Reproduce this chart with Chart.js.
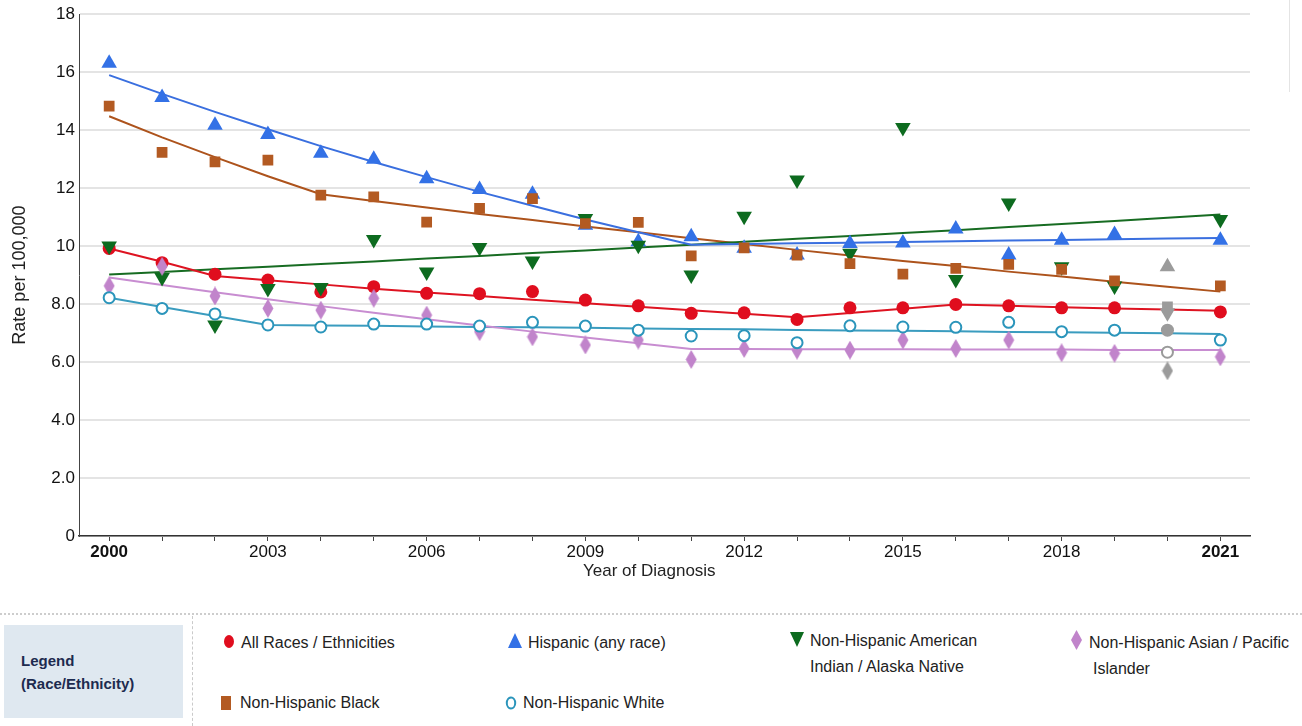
<!DOCTYPE html>
<html>
<head>
<meta charset="utf-8">
<script src="https://cdn.jsdelivr.net/npm/chart.js@4.4.1/dist/chart.umd.min.js"></script>
<style>
  html, body { margin: 0; padding: 0; background: #fff; width: 1302px; height: 726px; overflow: hidden;
    font-family: "Liberation Sans", Arial, sans-serif; }
  #wrap { position: absolute; left: 0; top: 0; width: 1302px; height: 600px; }
  #xTitle { position: absolute; left: 583px; top: 560px; font-size: 17px; line-height: 22px; color: #222; white-space: nowrap; }
  #sideRule { position: absolute; left: 1289px; top: 0; height: 92px; border-left: 1px solid #e4e4e4; }
  #legendRule { position: absolute; left: 0; top: 613px; width: 1302px; border-top: 2px dotted #cdcdcd; }
  #legendDivider { position: absolute; left: 192px; top: 616px; height: 110px; border-left: 1px dashed #cacaca; }
  #legendHead { position: absolute; left: 4px; top: 625px; width: 179px; height: 93px; background: #dfe8f0; }
  #legendHead div { position: absolute; left: 17px; font-weight: bold; font-size: 15px; color: #1d2b4f; line-height: 20px; }
  .txt { position: absolute; font-size: 16px; color: #222; line-height: 20px; white-space: nowrap; }
  .mk { position: absolute; }
</style>
</head>
<body>
<div id="wrap"><canvas id="chart" width="1302" height="600"></canvas></div>
<div id="xTitle">Year of Diagnosis</div>
<div id="sideRule"></div>
<div id="legendRule"></div>
<div id="legendDivider"></div>
<div id="legendHead">
  <div style="top:26px">Legend</div>
  <div style="top:49px">(Race/Ethnicity)</div>
</div>

<!-- legend entries -->
<svg class="mk" style="left:223px;top:634px" width="12" height="15"><ellipse cx="6" cy="7.5" rx="5" ry="6.5" fill="#e00d1e"/></svg>
<div class="txt" style="left:241px;top:633px">All Races / Ethnicities</div>

<svg class="mk" style="left:508px;top:633px" width="14" height="15"><polygon points="7,0 14,15 0,15" fill="#3371e6"/></svg>
<div class="txt" style="left:528px;top:633px">Hispanic (any race)</div>

<svg class="mk" style="left:790px;top:632px" width="14" height="15"><polygon points="0,0 14,0 7,15" fill="#0d6b1f"/></svg>
<div class="txt" style="left:810px;top:631px">Non-Hispanic American</div>
<div class="txt" style="left:810px;top:657px">Indian / Alaska Native</div>

<svg class="mk" style="left:1071px;top:630px" width="11" height="20"><polygon points="5.5,0 11,10 5.5,20 0,10" fill="#c184cb"/></svg>
<div class="txt" style="left:1089px;top:633px">Non-Hispanic Asian / Pacific</div>
<div class="txt" style="left:1093px;top:659px">Islander</div>

<svg class="mk" style="left:221px;top:696px" width="10" height="14"><rect x="0" y="0" width="10" height="14" fill="#b35a22"/></svg>
<div class="txt" style="left:240px;top:693px">Non-Hispanic Black</div>

<svg class="mk" style="left:505px;top:696px" width="12" height="14"><ellipse cx="6" cy="7" rx="4.2" ry="5.5" fill="#fff" stroke="#2b95bb" stroke-width="2"/></svg>
<div class="txt" style="left:523px;top:693px">Non-Hispanic White</div>

<script>
// Year of diagnosis
const years = [2000, 2001, 2002, 2003, 2004, 2005, 2006, 2007, 2008, 2009, 2010,
               2011, 2012, 2013, 2014, 2015, 2016, 2017, 2018, 2019, 2020, 2021];
const excludedYear = 2020;   // shown in gray, not part of the trend fit

// Observed rates per 100,000
const allRacesObs = [9.92, 9.43, 9.03, 8.83, 8.42, 8.60, 8.37, 8.36, 8.43, 8.14, 7.94,
                     7.68, 7.70, 7.47, 7.87, 7.87, 7.99, 7.94, 7.87, 7.87, 7.10, 7.73];
const hispanicObs = [16.31, 15.13, 14.17, 13.85, 13.20, 13.00, 12.32, 11.95, 11.79, 10.72, 10.15,
                     10.32, 9.93, 9.69, 10.09, 10.11, 10.59, 9.69, 10.20, 10.40, 9.29, 10.20];
const aianObs     = [10.00, 8.92, 7.28, 8.54, 8.57, 10.23, 9.11, 9.95, 9.49, 10.95, 10.03,
                     9.00, 11.03, 12.28, 9.75, 14.09, 8.85, 11.49, 9.29, 8.62, 7.70, 10.92];
const apiObs      = [8.63, 9.30, 8.28, 7.85, 7.79, 8.20, 7.62, 7.05, 6.87, 6.59, 6.76,
                     6.09, 6.47, 6.41, 6.41, 6.76, 6.47, 6.76, 6.32, 6.30, 5.70, 6.18];
const blackObs    = [14.83, 13.23, 12.91, 12.97, 11.76, 11.70, 10.83, 11.30, 11.64, 10.78, 10.82,
                     9.66, 9.94, 9.69, 9.40, 9.03, 9.23, 9.37, 9.20, 8.80, 7.90, 8.63];
const whiteObs    = [8.22, 7.85, 7.66, 7.28, 7.21, 7.31, 7.31, 7.24, 7.37, 7.24, 7.10,
                     6.90, 6.91, 6.67, 7.25, 7.21, 7.20, 7.37, 7.05, 7.10, 6.34, 6.76];

// Modeled (joinpoint) trend rates
const allRacesFit = [9.92, 9.46, 8.97, 8.82, 8.68, 8.53, 8.40, 8.28, 8.15, 8.03, 7.91,
                     7.79, 7.67, 7.55, 7.69, 7.84, 7.99, 7.94, 7.89, 7.85, 7.81, 7.77];
const hispanicFit = [15.90, 15.25, 14.63, 14.03, 13.45, 12.90, 12.38, 11.87, 11.39, 10.92, 10.48,
                     10.05, 10.07, 10.10, 10.12, 10.14, 10.17, 10.19, 10.21, 10.24, 10.26, 10.28];
const aianFit     = [9.02, 9.11, 9.20, 9.29, 9.38, 9.47, 9.57, 9.66, 9.76, 9.85, 9.95,
                     10.05, 10.15, 10.25, 10.35, 10.45, 10.55, 10.66, 10.76, 10.87, 10.98, 11.09];
const apiFit      = [8.92, 8.66, 8.41, 8.17, 7.93, 7.70, 7.48, 7.26, 7.05, 6.85, 6.65,
                     6.45, 6.45, 6.44, 6.44, 6.44, 6.43, 6.43, 6.43, 6.42, 6.42, 6.42];
const blackFit    = [14.48, 13.75, 13.07, 12.41, 11.79, 11.56, 11.33, 11.11, 10.90, 10.68, 10.48,
                     10.27, 10.07, 9.87, 9.68, 9.49, 9.31, 9.12, 8.95, 8.77, 8.60, 8.43];
const whiteFit    = [8.22, 7.90, 7.59, 7.28, 7.26, 7.25, 7.23, 7.21, 7.20, 7.18, 7.16,
                     7.14, 7.13, 7.11, 7.09, 7.08, 7.06, 7.04, 7.03, 7.01, 6.99, 6.97];

// Axis tick labels
const xTickLabels = ['2000', '', '', '2003', '', '', '2006', '', '', '2009', '', '',
                     '2012', '', '', '2015', '', '', '2018', '', '', '2021'];
const yTickValues = [0, 2, 4, 6, 8, 10, 12, 14, 16, 18];
const yTickLabels = ['0', '2.0', '4.0', '6.0', '8.0', '10', '12', '14', '16', '18'];

const FONT = '"Liberation Sans", Arial, sans-serif';
const GRAY = '#9b9b9b';

const COLORS = {
  all:   { mark: '#e00d1e', line: '#de1321' },
  hisp:  { mark: '#3371e6', line: '#3a6fdf' },
  aian:  { mark: '#0d6b1f', line: '#176c22' },
  api:   { mark: '#c184cb', line: '#c88dd1' },
  black: { mark: '#b35a22', line: '#ad531c' },
  white: { mark: '#2b95bb', line: '#3a9cbf' }
};

function pts(arr) { return years.map((y, i) => ({ x: y, y: arr[i] })); }
function perPoint(color) { return years.map(y => (y === excludedYear ? GRAY : color)); }

// tall diamond marker
function diamond(color) {
  const c = document.createElement('canvas');
  c.width = 12; c.height = 19;
  const g = c.getContext('2d');
  g.fillStyle = color;
  g.beginPath();
  g.moveTo(6, 0); g.lineTo(11.5, 9.5); g.lineTo(6, 19); g.lineTo(0.5, 9.5);
  g.closePath(); g.fill();
  return c;
}
const apiDiamond = diamond(COLORS.api.mark);
const grayDiamond = diamond(GRAY);

function observed(label, arr, color, style, extra, order) {
  return Object.assign({
    label: label,
    data: pts(arr),
    showLine: false,
    pointStyle: style,
    pointBackgroundColor: perPoint(color),
    pointBorderColor: perPoint(color),
    pointBorderWidth: 0,
    order: order
  }, extra);
}
function trend(label, arr, color, order) {
  return {
    label: label,
    data: pts(arr),
    borderColor: color,
    borderWidth: 2,
    pointRadius: 0,
    tension: 0,
    fill: false,
    order: order
  };
}

const datasets = [
  trend('All Races / Ethnicities trend', allRacesFit, COLORS.all.line, 20),
  trend('Hispanic (any race) trend', hispanicFit, COLORS.hisp.line, 21),
  trend('Non-Hispanic American Indian / Alaska Native trend', aianFit, COLORS.aian.line, 22),
  trend('Non-Hispanic Asian / Pacific Islander trend', apiFit, COLORS.api.line, 23),
  trend('Non-Hispanic Black trend', blackFit, COLORS.black.line, 24),
  trend('Non-Hispanic White trend', whiteFit, COLORS.white.line, 25),

  observed('All Races / Ethnicities', allRacesObs, COLORS.all.mark, 'circle', { pointRadius: 6.5 }, 6),
  observed('Hispanic (any race)', hispanicObs, COLORS.hisp.mark, 'triangle', { pointRadius: 9 }, 5),
  observed('Non-Hispanic American Indian / Alaska Native', aianObs, COLORS.aian.mark, 'triangle',
           { pointRadius: 9, pointRotation: 180 }, 4),
  observed('Non-Hispanic Asian / Pacific Islander', apiObs, COLORS.api.mark,
           years.map(y => (y === excludedYear ? grayDiamond : apiDiamond)), { pointRadius: 9 }, 3),
  observed('Non-Hispanic White', whiteObs, '#ffffff', 'circle', {
      pointRadius: 5.5,
      pointBorderWidth: 2,
      pointBackgroundColor: '#ffffff',
      pointBorderColor: perPoint(COLORS.white.mark)
    }, 2),
  observed('Non-Hispanic Black', blackObs, COLORS.black.mark, 'rect', { pointRadius: 7.6 }, 1)
];

new Chart(document.getElementById('chart'), {
  type: 'line',
  data: { datasets: datasets },
  options: {
    responsive: false,
    animation: false,
    events: [],
    layout: { padding: { top: 14, right: 52, left: 0, bottom: 0 } },
    plugins: { legend: { display: false }, tooltip: { enabled: false } },
    scales: {
      x: {
        type: 'linear',
        min: 1999.43,
        max: 2021.56,
        afterFit: s => { s.height = 64; },
        afterBuildTicks: s => { s.ticks = years.map(v => ({ value: v })); },
        grid: { drawOnChartArea: false, drawTicks: true, tickLength: 5, tickColor: '#444', tickWidth: 1 },
        border: { display: true, color: '#333', width: 1.5 },
        ticks: {
          autoSkip: false,
          maxRotation: 0,
          padding: 1,
          color: '#111',
          font: ctx => ({
            family: FONT, size: 17,
            weight: (ctx.tick && (ctx.tick.value === 2000 || ctx.tick.value === 2021)) ? 'bold' : 'normal'
          }),
          callback: v => xTickLabels[years.indexOf(v)]
        },
        title: { display: false }
      },
      y: {
        min: 0,
        max: 18,
        afterFit: s => { s.width = 79; },
        afterBuildTicks: s => { s.ticks = yTickValues.map(v => ({ value: v })); },
        grid: { color: '#e4e4e4', lineWidth: 2, drawTicks: false, tickLength: 0 },
        border: { display: true, color: '#444', width: 1 },
        ticks: {
          padding: 4,
          color: '#111',
          font: { family: FONT, size: 17 },
          callback: v => yTickLabels[yTickValues.indexOf(v)]
        },
        title: {
          display: true,
          text: 'Rate per 100,000',
          color: '#222',
          font: { family: FONT, size: 18 },
          padding: { top: 9, bottom: 0 }
        }
      }
    }
  }
});
</script>
</body>
</html>
